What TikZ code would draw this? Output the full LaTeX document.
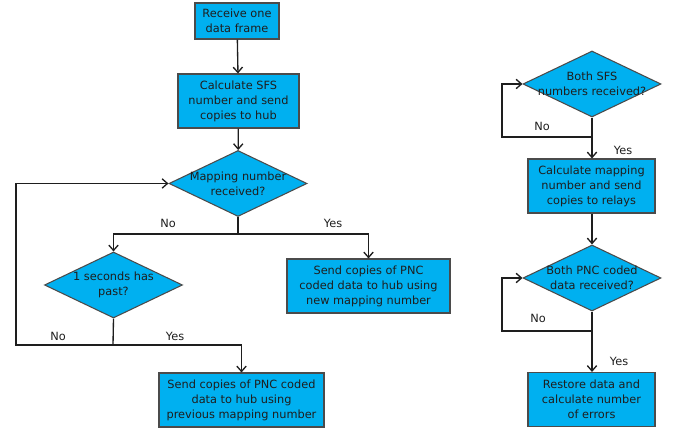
\documentclass[tikz,border=0pt]{standalone}
\usepackage{fontspec}
\setmainfont{DejaVu Sans}
\usetikzlibrary{shapes.geometric,arrows.meta}
\definecolor{boxblue}{RGB}{0,176,240}
\definecolor{ink}{RGB}{30,30,30}
\tikzset{
	box/.style={draw=ink!80,line width=0.8pt,fill=boxblue,text=ink,align=center,font=\fontsize{8.5}{11.25}\selectfont,inner sep=0pt},
	decision/.style={diamond,draw=ink!80,line width=0.8pt,fill=boxblue,inner sep=0pt,minimum width=103.5pt,minimum height=49.5pt},
	qtext/.style={text=ink,align=center,font=\fontsize{8.5}{11.25}\selectfont},
	lab/.style={text=ink,font=\fontsize{8.5}{11.25}\selectfont},
	line/.style={draw=ink,line width=1pt},
	arr/.style={line,-{Straight Barb[length=4pt,width=7pt]}}
}
\begin{document}
\begin{tikzpicture}[x=0.75pt,y=-0.75pt]
		\useasboundingbox (0,0) rectangle (683,434);
		% left column
		\node[box,minimum width=63pt,minimum height=27pt] (receive) at (237,21) {Receive one\\data frame};
		\node[box,minimum width=90.75pt,minimum height=40.5pt] (calcsfs) at (238.5,101) {Calculate SFS\\number and send\\copies to hub};
		\node[decision,label={[qtext]center:Mapping number\\received?}] (mapq) at (238,183.5) {};
		\node[decision,label={[qtext]center:1 seconds has\\past?}] (waitq) at (113.5,285) {};
		\node[box,minimum width=122.25pt,minimum height=40.5pt] (sendnew) at (368.5,286) {Send copies of PNC\\coded data to hub using\\new mapping number};
		\node[box,minimum width=123.75pt,minimum height=40.5pt] (sendprev) at (241.5,400) {Send copies of PNC coded\\data to hub using\\previous mapping number};
		\coordinate (mapj) at (238,234);
		\coordinate (waitj) at (113,345);
		\coordinate (loopl) at (16,345);
		\draw[arr] (receive) -- (calcsfs);
		\draw[arr] (calcsfs) -- (mapq);
		\draw[line] (mapq.south) -- (mapj);
		\draw[arr] (mapj) -| (waitq.north);
		\draw[arr] (mapj) -| (sendnew.north);
		\draw[line] (waitq.south) -- (waitj);
		\draw[arr] (waitj) -| (sendprev.north);
		\draw[arr] (waitj) -- (loopl) |- (mapq.west);
		\node[lab] (mapno) at (168,223) {No};
		\node[lab] (mapyes) at (333,223) {Yes};
		\node[lab] (waitno) at (58,336) {No};
		\node[lab] (waityes) at (175,336) {Yes};
		% right column
		\node[decision,label={[qtext]center:Both SFS\\numbers received?}] (bothsfs) at (592,84) {};
		\node[box,minimum width=95.25pt,minimum height=40.5pt] (calcmap) at (591.5,186) {Calculate mapping\\number and send\\copies to relays};
		\node[decision,label={[qtext]center:Both PNC coded\\data received?}] (bothpnc) at (592,278) {};
		\node[box,minimum width=95.25pt,minimum height=40.5pt] (restore) at (591.5,399.5) {Restore data and\\calculate number\\of errors};
		\coordinate (sfsj) at (592,137);
		\coordinate (sfsl) at (502,137);
		\coordinate (pncj) at (592,331);
		\coordinate (pncl) at (502,331);
		\draw[line] (bothsfs.south) -- (sfsj);
		\draw[arr] (sfsj) -- (calcmap.north -| sfsj);
		\draw[arr] (sfsj) -- (sfsl) |- (bothsfs.west);
		\draw[arr] (calcmap.south -| sfsj) -- (bothpnc.north);
		\draw[line] (bothpnc.south) -- (pncj);
		\draw[arr] (pncj) -- (restore.north -| pncj);
		\draw[arr] (pncj) -- (pncl) |- (bothpnc.west);
		\node[lab] (sfsno) at (542,126) {No};
		\node[lab] (sfsyes) at (623,150) {Yes};
		\node[lab] (pncno) at (538,318) {No};
		\node[lab] (pncyes) at (619,361) {Yes};
\end{tikzpicture}
\end{document}
